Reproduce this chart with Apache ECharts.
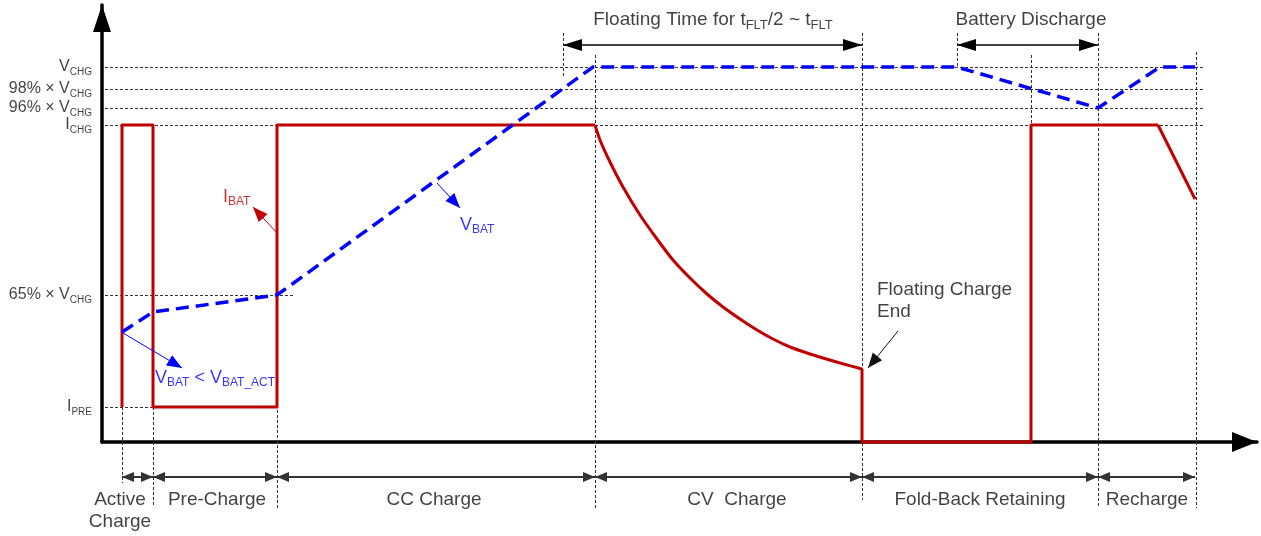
<!DOCTYPE html>
<html><head><meta charset="utf-8">
<script src="https://cdn.jsdelivr.net/npm/echarts@6/dist/echarts.min.js"></script>
<style>html,body{margin:0;padding:0;background:#fff}#c{width:1261px;height:536px}</style>
</head><body><div id="c"></div>
<script>
// ---- data (time in axis units, level in axis units; x-axis = level 0) ----
const phaseBounds = [20, 51, 175, 493, 760, 996, 1093];
const phaseNames = ['Active\nCharge', 'Pre-Charge', 'CC Charge', 'CV  Charge', 'Fold-Back Retaining', 'Recharge'];
const phaseLabelT = [18, 115, 332, 635, 878, 1045];
const phaseLabelV = [-69, -58, -58, -58, -58, -58];
const phaseArrowV = -35;

const levelLabels = ['{m|V}{s|CHG}', '{m|98% × V}{s|CHG}', '{m|96% × V}{s|CHG}', '{m|I}{s|CHG}', '{m|65% × V}{s|CHG}', '{m|I}{s|PRE}'];
const levelValues = [375, 353, 334, 317, 147, 35];
const levelGuideEnd = [1101, 1101, 1101, 1101, 193, 51];

// I_BAT pieces
const ibatStepT1 = [20, 20, 51, 51, 175, 175, 493];
const ibatStepV1 = [35, 317, 317, 35, 35, 317, 317];
const cvCurveT = [493, 498, 508, 521, 538, 555, 571, 588, 605, 621, 638, 655, 671, 688, 705, 721, 738, 760];
const cvCurveV = [317, 302, 280, 255, 227, 203, 182, 164, 148, 135, 123, 112, 103, 95, 89, 84, 79, 73];
const ibatStepT2 = [760, 760, 929, 929, 1056];
const ibatStepV2 = [73, 0, 0, 317, 317];
const rcCurveT = [1056, 1065, 1075, 1085, 1093];
const rcCurveV = [317, 299, 279, 259, 243];

const vbatT = [20, 51, 175, 491, 855, 996, 1058, 1093];
const vbatV = [110, 130, 147, 375, 375, 334, 375, 375];

// vertical guide lines: time, from level, to level
const vGuideT = [20, 51, 175, 493, 461, 760, 855, 929, 996, 1094];
const vGuideFrom = [35, 35, 147, 387, 409, 409, 409, 387, 409, 390];
const vGuideTo = [-41, -63, -66, -66, 364, -58, 375, 317, -66, -66];

// top span arrows
const spanStart = [461, 855];
const spanEnd = [760, 996];
const spanV = 397;
const spanTexts = ['Floating Time for t{s|FLT}/2 ~ t{s|FLT}', 'Battery Discharge'];
const spanTextT = [611, 929];
const spanTextV = 422;

// pointer annotations
const noteTexts = ['{m|I}{s|BAT}', '{m|V}{s|BAT}', '{m|V}{s|BAT}{m| < V}{s|BAT_ACT}', 'Floating Charge\nEnd'];
const noteT = [121, 358, 53, 775];
const noteV = [245, 217, 64, 141];
const noteColor = ['#c00000', '#0000ff', '#0000ff', '#111111'];
const notePtrFrom = [[175, 209], [335, 259], [21, 109], [796, 111]];
const notePtrTo = [[151, 235], [358, 234], [80, 74], [766, 74]];

// ---- chart ----
const FONT = 'Liberation Sans, Arial, sans-serif';
const TXT = '#111111';
// arrowhead whose tip sits at the centre of its box (so the tip lands on the line end)
const HEAD = 'path://M5,0L5.01,0L5,0.01Z M5,20L10,40L0,40Z';
function rich(main, sub, color) {
  const H = 2 * (5 + sub / 2);
  return {
    m: { fontSize: main, lineHeight: H, verticalAlign: 'middle', color: color, fontFamily: FONT },
    s: { fontSize: sub, lineHeight: sub, verticalAlign: 'bottom', color: color, fontFamily: FONT }
  };
}
const zip = (a, b) => a.map((x, i) => [x, b[i]]);

const guideData = [];
levelValues.forEach((v, i) => guideData.push({ coords: [[3, v], [levelGuideEnd[i], v]] }));
vGuideT.forEach((t, i) => guideData.push({ coords: [[t, vGuideFrom[i]], [t, vGuideTo[i]]] }));

const phaseArrows = [];
for (let i = 0; i < phaseBounds.length - 1; i++) phaseArrows.push({ coords: [[phaseBounds[i], phaseArrowV], [phaseBounds[i + 1], phaseArrowV]] });
const spanArrows = spanStart.map((s, i) => ({ coords: [[s, spanV], [spanEnd[i], spanV]] }));

const textItems = [];
levelValues.forEach((v, i) => textItems.push({
  value: [0, v],
  label: { show: true, position: 'left', distance: 10, formatter: levelLabels[i], rich: rich(16, 10, TXT) }
}));
phaseNames.forEach((n, i) => textItems.push({
  value: [phaseLabelT[i], phaseLabelV[i]],
  label: { show: true, position: 'inside', formatter: n, fontSize: 19, lineHeight: 22, color: TXT, fontFamily: FONT, align: 'center' }
}));
spanTexts.forEach((n, i) => textItems.push({
  value: [spanTextT[i], spanTextV],
  label: { show: true, position: 'inside', formatter: '{m|' + n.replace(/\{s\|([^}]*)\}/g, '}{s|$1}{m|') + '}', rich: rich(19, 13, TXT) }
}));
noteTexts.forEach((n, i) => {
  const plain = n.indexOf('{') < 0;
  textItems.push({
    value: [noteT[i], noteV[i]],
    label: plain
      ? { show: true, position: 'right', distance: 0, formatter: n, fontSize: 19, lineHeight: 22, color: noteColor[i], fontFamily: FONT }
      : { show: true, position: 'right', distance: 0, formatter: n, rich: rich(18, 12, noteColor[i]) }
  });
});

const redLine = (t, v, smooth) => ({ type: 'line', clip: false, silent: true, symbol: 'none', showSymbol: false, smooth: smooth,
  lineStyle: { color: '#c00000', width: 3, join: 'round' }, data: zip(t, v), z: 3 });

const chart = echarts.init(document.getElementById('c'), null, { renderer: 'canvas' });
chart.setOption({
  animation: false,
  backgroundColor: '#fff',
  grid: { left: 102, right: 4, top: 5, bottom: 94 },
  xAxis: {
    type: 'value', min: 0, max: 1155,
    axisLine: { show: true, onZero: false, lineStyle: { color: '#000', width: 3.5 }, symbol: ['none', 'triangle'], symbolSize: [20, 25], symbolOffset: [0, -12.5] },
    axisTick: { show: false }, axisLabel: { show: false }, splitLine: { show: false }
  },
  yAxis: {
    type: 'value', min: 0, max: 437,
    axisLine: { show: true, onZero: false, lineStyle: { color: '#000', width: 3.5 }, symbol: ['none', 'triangle'], symbolSize: [18, 27], symbolOffset: [0, -13.5] },
    axisTick: { show: false }, axisLabel: { show: false }, splitLine: { show: false }
  },
  series: [
    { type: 'lines', coordinateSystem: 'cartesian2d', clip: false, silent: true, symbol: 'none',
      lineStyle: { color: '#333', width: 1, type: [3, 2], opacity: 1 }, data: guideData, z: 1 },
    { type: 'lines', coordinateSystem: 'cartesian2d', clip: false, silent: true, symbol: [HEAD, HEAD], symbolSize: [[10, 24], [10, 24]],
      lineStyle: { color: '#333', width: 2, opacity: 1 }, data: phaseArrows, z: 2 },
    { type: 'lines', coordinateSystem: 'cartesian2d', clip: false, silent: true, symbol: [HEAD, HEAD], symbolSize: [[12, 38], [12, 38]],
      lineStyle: { color: '#000', width: 1.5, opacity: 1 }, data: spanArrows, z: 2 },
    redLine(ibatStepT1, ibatStepV1, false),
    redLine(cvCurveT, cvCurveV, 0.2),
    redLine(ibatStepT2, ibatStepV2, false),
    redLine(rcCurveT, rcCurveV, 0.3),
    { type: 'line', clip: false, silent: true, symbol: 'none', showSymbol: false,
      lineStyle: { color: '#0000ff', width: 3.5, type: [13, 7] }, data: zip(vbatT, vbatV), z: 4 },
    { type: 'lines', coordinateSystem: 'cartesian2d', clip: false, silent: true, symbol: ['none', HEAD], symbolSize: [[12, 30], [12, 30]],
      data: notePtrFrom.map((f, i) => ({ coords: [f, notePtrTo[i]], lineStyle: { color: noteColor[i], width: 1, opacity: 1 } })), z: 5 },
    { type: 'scatter', clip: false, silent: true, symbolSize: 0, data: textItems, z: 6 }
  ]
});
</script>
</body></html>
